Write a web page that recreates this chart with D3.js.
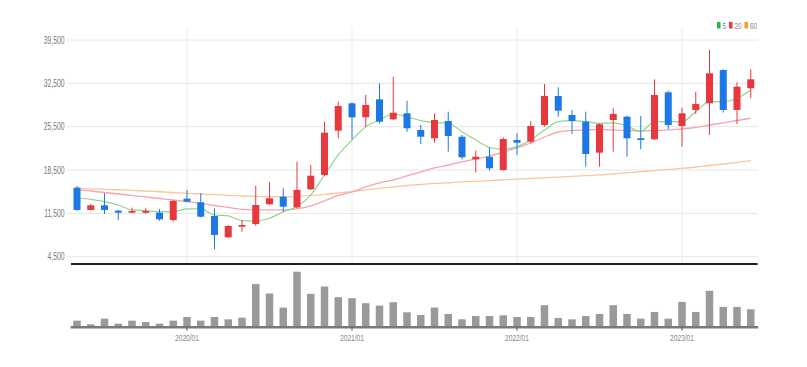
<!DOCTYPE html>
<html><head><meta charset="utf-8">
<script src="https://cdn.jsdelivr.net/npm/d3@7/dist/d3.min.js"></script>
<style>
body{margin:0;background:#fff;}
svg{display:block;}
.lbl{font-family:"Liberation Sans",Arial,sans-serif;}
</style></head>
<body><svg id="c" width="807" height="367"></svg>
<script>
const months = ["2019/05","2019/06","2019/07","2019/08","2019/09","2019/10","2019/11","2019/12",
"2020/01","2020/02","2020/03","2020/04","2020/05","2020/06","2020/07","2020/08","2020/09","2020/10","2020/11","2020/12",
"2021/01","2021/02","2021/03","2021/04","2021/05","2021/06","2021/07","2021/08","2021/09","2021/10","2021/11","2021/12",
"2022/01","2022/02","2022/03","2022/04","2022/05","2022/06","2022/07","2022/08","2022/09","2022/10","2022/11","2022/12",
"2023/01","2023/02","2023/03","2023/04","2023/05","2023/06"];
const open  = [15650,12050,12800,11930,11610,11600,11610,10430,13870,13290,11080,7640,9350,9780,12970,14190,12480,15390,17700,24850,29280,27020,29920,26690,27660,24970,23630,26420,23880,20230,20650,18510,23350,23080,25770,30460,27390,26310,21300,26580,27110,23630,23460,31050,25610,28200,29280,34650,28200,31700];
const high  = [15920,13010,14740,12050,12420,12300,12210,13660,15280,14740,12320,9620,10430,15920,16520,15550,19850,19310,26300,29540,29400,30620,32510,33570,29700,25770,27660,27920,24160,21620,22170,23790,24430,26420,32390,31860,28200,27920,26050,28470,27300,27230,33150,31310,28570,31150,37890,34770,32670,34770];
const low   = [11880,11930,11400,10430,11510,11400,10320,10160,13340,10870,5700,7480,8540,9460,12850,11770,12320,15280,17540,23630,23460,25500,26050,26580,24690,22700,22910,21460,20230,18070,18390,18390,20930,22820,25500,27110,24320,19040,19040,21460,20650,21850,23350,25080,22270,27550,24160,27760,25930,30090];
const close = [12050,12800,12050,11610,11880,11880,10540,13500,13390,10960,8010,9460,9620,12850,13940,12580,15280,17580,24530,28840,27020,29000,26310,27760,25240,23880,26580,24000,20560,20650,18780,23510,22910,25610,30460,28080,26420,21090,25890,27550,23630,23350,30620,25770,27660,29160,34120,28200,31960,33150];
const volume = [180,70,240,90,180,140,90,180,290,180,290,220,270,1270,990,570,1640,980,1200,880,850,700,630,730,430,350,570,380,220,320,320,340,290,290,640,260,220,320,380,640,380,240,440,240,740,440,1070,590,590,520];
const ma5  = [13940,13770,13390,12850,12050,11930,11770,11770,12210,12210,11240,11080,10320,10270,10710,11770,12580,14470,17700,20930,23350,25500,26580,27550,27110,26470,26180,26050,24690,23350,22170,21850,22270,23350,24970,26310,26470,26310,26050,26100,25610,24690,26310,26310,26310,27920,29540,29540,30090,31430];
const ma20 = [15280,15110,14870,14630,14390,14150,13900,13660,13390,13100,12770,12450,12130,12050,12050,12050,12210,12690,13500,14390,14950,15760,16410,16890,17540,18180,18830,19310,19800,20280,20770,21410,22060,22870,23830,24640,24890,24970,25050,24970,24890,24800,24890,24970,25130,25370,25770,26100,26500,26860];
const ma60 = [15550,15470,15390,15310,15210,15110,14990,14870,14740,14630,14520,14420,14310,14230,14190,14190,14260,14390,14550,14790,15030,15280,15520,15760,16000,16160,16330,16440,16570,16680,16790,16910,17020,17130,17240,17360,17470,17580,17700,17880,18050,18230,18410,18590,18750,18990,19230,19470,19750,20010];
const yTicks = [4500,11500,18500,25500,32500,39500];
const xTicks = ["2020/01","2021/01","2022/01","2023/01"];
const legendItems = [{name:"5",color:"#2fb344"},{name:"20",color:"#e8383d"},{name:"60",color:"#f59a2f"}];

const svg = d3.select("#c");
const L = 70.125, R = 757.625;
const x = d3.scaleBand().domain(months).range([L, R]).padding(0);
const cx = d => x(d) + x.bandwidth()/2;
const y = d3.scaleLinear().domain([4500, 39500]).range([256.7, 40]);
const yv = d3.scaleLinear().domain([0, 1640]).range([326.7, 271.7]);
const PT = 28, PB = 264;
const SX = 0.68;

// grid
const g = svg.append("g");
g.selectAll("line.h").data(yTicks).join("line")
  .attr("x1", 67).attr("x2", R).attr("y1", d=>y(d)).attr("y2", d=>y(d))
  .attr("stroke", "#e6e6e6").attr("stroke-width", 1);
g.selectAll("line.v").data(xTicks).join("line")
  .attr("x1", d=>cx(d)).attr("x2", d=>cx(d)).attr("y1", PT).attr("y2", PB)
  .attr("stroke", "#ececec").attr("stroke-width", 1);

// y axis labels
const ya = svg.append("g").attr("transform", "translate(70,0)")
  .call(d3.axisLeft(y).tickValues(yTicks).tickSize(0).tickFormat(d3.format(",")));
ya.select(".domain").remove();
ya.selectAll("text").attr("class","lbl").attr("font-size", 10).attr("fill", "#777")
  .attr("x", 0).attr("transform", `translate(-5.5,0) scale(${SX},1)`);

// MA lines
const line = arr => d3.line().x((d,i)=>cx(months[i])).y(d=>y(d)).curve(d3.curveMonotoneX)(arr);
svg.append("path").attr("d", line(ma60)).attr("fill","none").attr("stroke","#f9c79a").attr("stroke-width",1.3);
svg.append("path").attr("d", line(ma20)).attr("fill","none").attr("stroke","#f6a5ad").attr("stroke-width",1.3);
svg.append("path").attr("d", line(ma5)).attr("fill","none").attr("stroke","#8fd68b").attr("stroke-width",1.2);

// candles
const up = "#e8383d", down = "#1c78e4";
const idx = d3.range(months.length);
const cg = svg.append("g");
cg.selectAll("line.w").data(idx).join("line")
  .attr("x1", i=>cx(months[i])).attr("x2", i=>cx(months[i]))
  .attr("y1", i=>y(high[i])).attr("y2", i=>y(low[i]))
  .attr("stroke", i=> close[i] >= open[i] ? up : down).attr("stroke-width", 1);
const bw = 7;
cg.selectAll("rect.b").data(idx).join("rect")
  .attr("x", i=>cx(months[i]) - bw/2).attr("width", bw)
  .attr("y", i=>y(Math.max(open[i], close[i])))
  .attr("height", i=>Math.max(1.2, Math.abs(y(open[i]) - y(close[i]))))
  .attr("fill", i=> close[i] >= open[i] ? up : down);

// separator
svg.append("line").attr("x1", 71).attr("x2", R).attr("y1", PB).attr("y2", PB)
  .attr("stroke", "#222").attr("stroke-width", 2);

// volume
svg.append("g").selectAll("rect").data(idx).join("rect")
  .attr("x", i=>cx(months[i]) - 3.75).attr("width", 7.5)
  .attr("y", i=>yv(volume[i])).attr("height", i=>yv(0) - yv(volume[i]))
  .attr("fill", "#9a9a9a");

// x axis
const xa = svg.append("g").attr("transform", `translate(0,${yv(0)})`)
  .call(d3.axisBottom(x).tickValues(xTicks).tickSize(4).tickSizeOuter(0));
xa.select(".domain").attr("stroke", "#7a7a7a").attr("stroke-width", 2.5);
xa.selectAll(".tick line").attr("stroke", "#555");
xa.selectAll("text").attr("class","lbl").attr("font-size", 9.5).attr("fill", "#888")
  .attr("y", 0).attr("dy", 0).attr("transform", `translate(0,14.5) scale(0.7,1)`);

// legend
const lg = svg.append("g").attr("transform", "translate(717,22)");
let off = 0;
legendItems.forEach(it => {
  lg.append("rect").attr("x", off).attr("y", 0).attr("width", 3.5).attr("height", 6.5).attr("fill", it.color);
  const t = lg.append("text").attr("class","lbl").attr("x", 0).attr("y", 0)
    .attr("transform", `translate(${off + 5.5},6.5) scale(0.7,1)`)
    .attr("font-size", 9).attr("fill", "#888").text(it.name);
  off += 5.5 + t.node().getComputedTextLength()*0.7 + 3;
});
</script></body></html>
